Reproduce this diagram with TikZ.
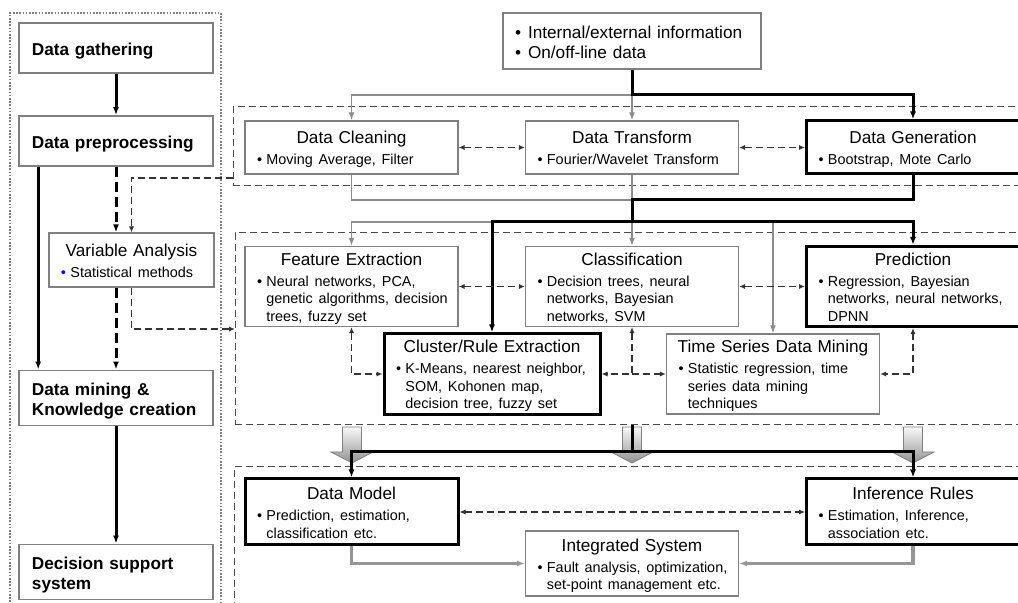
\documentclass[tikz,border=0pt]{standalone}
\usepackage{fontspec}
\setmainfont{Liberation Sans}
\usetikzlibrary{arrows.meta}
\definecolor{boxgray}{RGB}{128,128,128}
\definecolor{linegray}{RGB}{140,140,140}
\definecolor{pipegray}{RGB}{150,150,150}
\newcommand{\boxtitle}[1]{\makebox[\linewidth]{\rule{0pt}{9.4pt}#1}\\[0.5pt]}
\newcommand{\boxitems}[2][black]{{\fontsize{7.2}{8.75}\selectfont
  \begin{tabular}[t]{@{}l@{\hspace{2.2pt}}l@{}}\textcolor{#1}{\textbullet}&#2\end{tabular}}}

\begin{document}
\begin{tikzpicture}[x=0.5pt,y=-0.5pt,>={Latex[length=4pt,width=3pt]},
    stage/.style={draw=boxgray,line width=0.8pt,align=left,text width=84pt,
      inner xsep=6.5pt,minimum height=25pt,font=\fontsize{8.6}{10}\selectfont\bfseries,
      execute at begin node={\rule{0pt}{9.2pt}}},
    blk/.style={draw=boxgray,line width=0.6pt,align=left,inner xsep=6pt,inner ysep=0pt,
      text width=94.5pt,font=\fontsize{8.6}{10}\selectfont},
    key/.style={blk,draw=black,line width=1.5pt},
    region/.style={draw=black!70,line width=0.5pt,dash pattern=on 3.5pt off 2pt,
      inner sep=0pt,outer sep=0pt},
    dsh/.style={black!80,line width=0.6pt,dash pattern=on 3.5pt off 2pt,
      >={Latex[length=3pt,width=2.6pt]}},
    thk/.style={line width=1.5pt,->},
    gline/.style={linegray,line width=0.7pt,->},
    pipe/.style={pipegray,line width=1.8pt,->}]
  \useasboundingbox (0,0) rectangle (1018,603);
  \clip (0,0) rectangle (1018,603);

  \node (leftR) [region,draw=gray,dash pattern=on 0.8pt off 0.8pt,line width=0.8pt,
    minimum width=105.5pt,minimum height=298.5pt] at (115.5,311.5) {};
  \node (prepR) [region,minimum width=398.5pt,minimum height=39.5pt] at (631.5,146.5) {};
  \node (mineR) [region,minimum width=397.5pt,minimum height=96pt] at (632.5,329) {};
  \node (outR) [region,minimum width=398pt,minimum height=71.5pt] at (632,538.5) {};

  \node (gather) [stage] at (116,48) {Data gathering};
  \node (prep) [stage] at (116,141) {Data preprocessing};
  \node (var) [blk,text width=70.5pt,minimum height=27pt] at (131.5,260)
    {\boxtitle{Variable Analysis}\boxitems[blue]{Statistical methods}};
  \node (mining) [stage] at (116,398) {Data mining \&\\Knowledge creation};
  \node (dss) [stage] at (116,572) {Decision support\\system};

  \node (info) [blk,text width=117pt,minimum height=28pt] at (632,41)
    {\begin{tabular}{@{}l@{\hspace{3.5pt}}l@{}}\rule{0pt}{10.5pt}\textbullet&Internal/external information\\
     \textbullet&On/off-line data\end{tabular}};

  \node (clean) [blk,minimum height=26.5pt] at (351.5,147.5)
    {\boxtitle{Data Cleaning}\boxitems{Moving Average, Filter}};
  \node (trans) [blk,minimum height=26.5pt] at (632,147.5)
    {\boxtitle{Data Transform}\boxitems{Fourier/Wavelet Transform}};
  \node (gen) [key,minimum height=26.5pt] at (913,147.5)
    {\boxtitle{Data Generation}\boxitems{Bootstrap, Mote Carlo}};

  \node (feat) [blk,minimum height=39.5pt] at (351.5,286.5)
    {\boxtitle{Feature Extraction}\boxitems{Neural networks, PCA,\\&genetic algorithms, decision\\&trees, fuzzy set}};
  \node (cls) [blk,minimum height=39.5pt] at (632,286.5)
    {\boxtitle{Classification}\boxitems{Decision trees, neural\\&networks, Bayesian\\&networks, SVM}};
  \node (pred) [key,minimum height=39.5pt] at (913,286.5)
    {\boxtitle{Prediction}\boxitems{Regression, Bayesian\\&networks, neural networks,\\&DPNN}};
  \node (clus) [key,text width=96pt,minimum height=39pt] at (492,374)
    {\boxtitle{Cluster/Rule Extraction}\boxitems{K-Means, nearest neighbor,\\&SOM, Kohonen map,\\&decision tree, fuzzy set}};
  \node (ts) [blk,minimum height=39pt] at (773,374)
    {\boxtitle{Time Series Data Mining}\boxitems{Statistic regression, time\\&series data mining\\&techniques}};

  \node (dmod) [key,minimum height=33pt] at (351.5,512)
    {\boxtitle{Data Model}\boxitems{Prediction, estimation,\\&classification etc.}};
  \node (infr) [key,minimum height=33pt] at (913,512)
    {\boxtitle{Inference Rules}\boxitems{Estimation, Inference,\\&association etc.}};
  \node (integ) [blk,minimum height=32.5pt] at (632,563.5)
    {\boxtitle{Integrated System}\boxitems{Fault analysis, optimization,\\&set-point management etc.}};

  \coordinate (j0) at (632,95);
  \coordinate (j1) at (632,200);
  \coordinate (j2) at (632,222);
  \coordinate (j3) at (632,452);
  \coordinate (pv) at (233,178);
  \coordinate (vm) at (235,329);

  \draw[thk] (gather) -- (prep);
  \draw[thk] ([xshift=10pt]prep.south west) -- ([xshift=10pt]mining.north west);
  \draw[thk,dash pattern=on 5pt off 2.5pt] (prep.south) -- (prep.south |- var.north);
  \draw[thk,dash pattern=on 5pt off 2.5pt] (var.south -| mining.north) -- (mining.north);
  \draw[dsh,->] (pv) -| (var.north);
  \draw[dsh,->] (var.south) |- (vm);
  \draw[thk] (mining) -- (dss);

  \draw[gline] (j0) -| (clean.north);
  \draw[gline] (j0) -- (trans.north);
  \draw[thk] (info.south) -- (j0) -| (gen.north);
  \draw[dsh,<->] (clean) -- (trans);
  \draw[dsh,<->] (trans) -- (gen);

  \draw[gline,-] (clean.south) |- (j1);
  \draw[gline] (trans.south) -- (cls.north);
  \draw[gline] (j2) -| (feat.north);
  \draw[gline] (j2) -| (ts.north);
  \draw[thk,-] (gen.south) |- (j1) -- (j2);
  \draw[thk] (j2) -| (clus.north);
  \draw[thk] (j2) -| (pred.north);

  \draw[dsh,<->] (feat) -- (cls);
  \draw[dsh,<->] (cls) -- (pred);
  \draw[dsh,<->] (feat.south) |- (clus.west);
  \draw[dsh,<->] (cls.south) |- (clus.east);
  \draw[dsh,->] (cls.south |- ts.west) -- (ts.west);
  \draw[dsh,<->] (pred.south) |- (ts.east);

  \foreach \x in {352,632,913}
    \shade[draw=gray,top color=gray!5,bottom color=gray!85]
      (\x-9.5,427) -- (\x+9.5,427) -- (\x+9.5,452) -- (\x+21,452) -- (\x,463)
      -- (\x-21,452) -- (\x-9.5,452) -- cycle;
  \draw[thk,-] (mineR.south -| j3) -- (j3);
  \draw[thk] (j3) -| (dmod.north);
  \draw[thk] (j3) -| (infr.north);

  \draw[dsh,<->] (dmod) -- (infr);
  \draw[pipe] (dmod.south) |- (integ.west);
  \draw[pipe] (infr.south) |- (integ.east);
\end{tikzpicture}
\end{document}
